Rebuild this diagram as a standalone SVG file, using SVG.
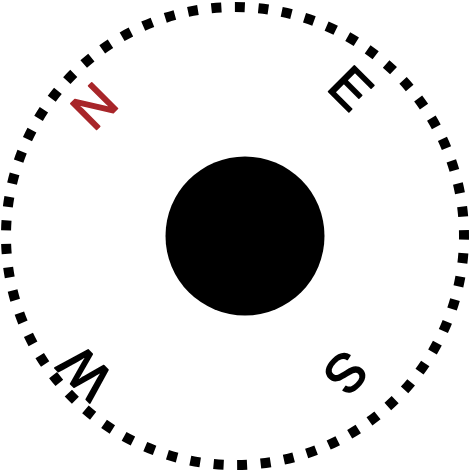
<svg xmlns="http://www.w3.org/2000/svg" width="469" height="470" viewBox="0 0 469 470">
<style>
.dir{font-family:"Liberation Sans",Arial,sans-serif;font-size:53px;text-anchor:middle;dominant-baseline:central;stroke-width:1.6;stroke-linejoin:round;stroke-linecap:round}
.blk{fill:#000;stroke:#000}
.red{fill:#a8262a;stroke:#a8262a}
</style>
<rect width="469" height="470" fill="#fff"/>
<g id="ring">
<circle cx="235" cy="236" r="229" fill="none" stroke="#000" stroke-width="10" stroke-dasharray="10 13.587" stroke-dashoffset="6.4"/>
</g>
<g id="center">
<circle cx="245" cy="236" r="79.5" fill="#000"/>
</g>
<g id="labels">
<text class="dir red" transform="translate(94,106) rotate(-45)">N</text>
<text class="dir blk" transform="translate(351,88) rotate(45)">E</text>
<text class="dir blk" transform="translate(346,373) rotate(135)">S</text>
<text class="dir blk" transform="translate(85,373) rotate(-135)">W</text>
</g>
</svg>
